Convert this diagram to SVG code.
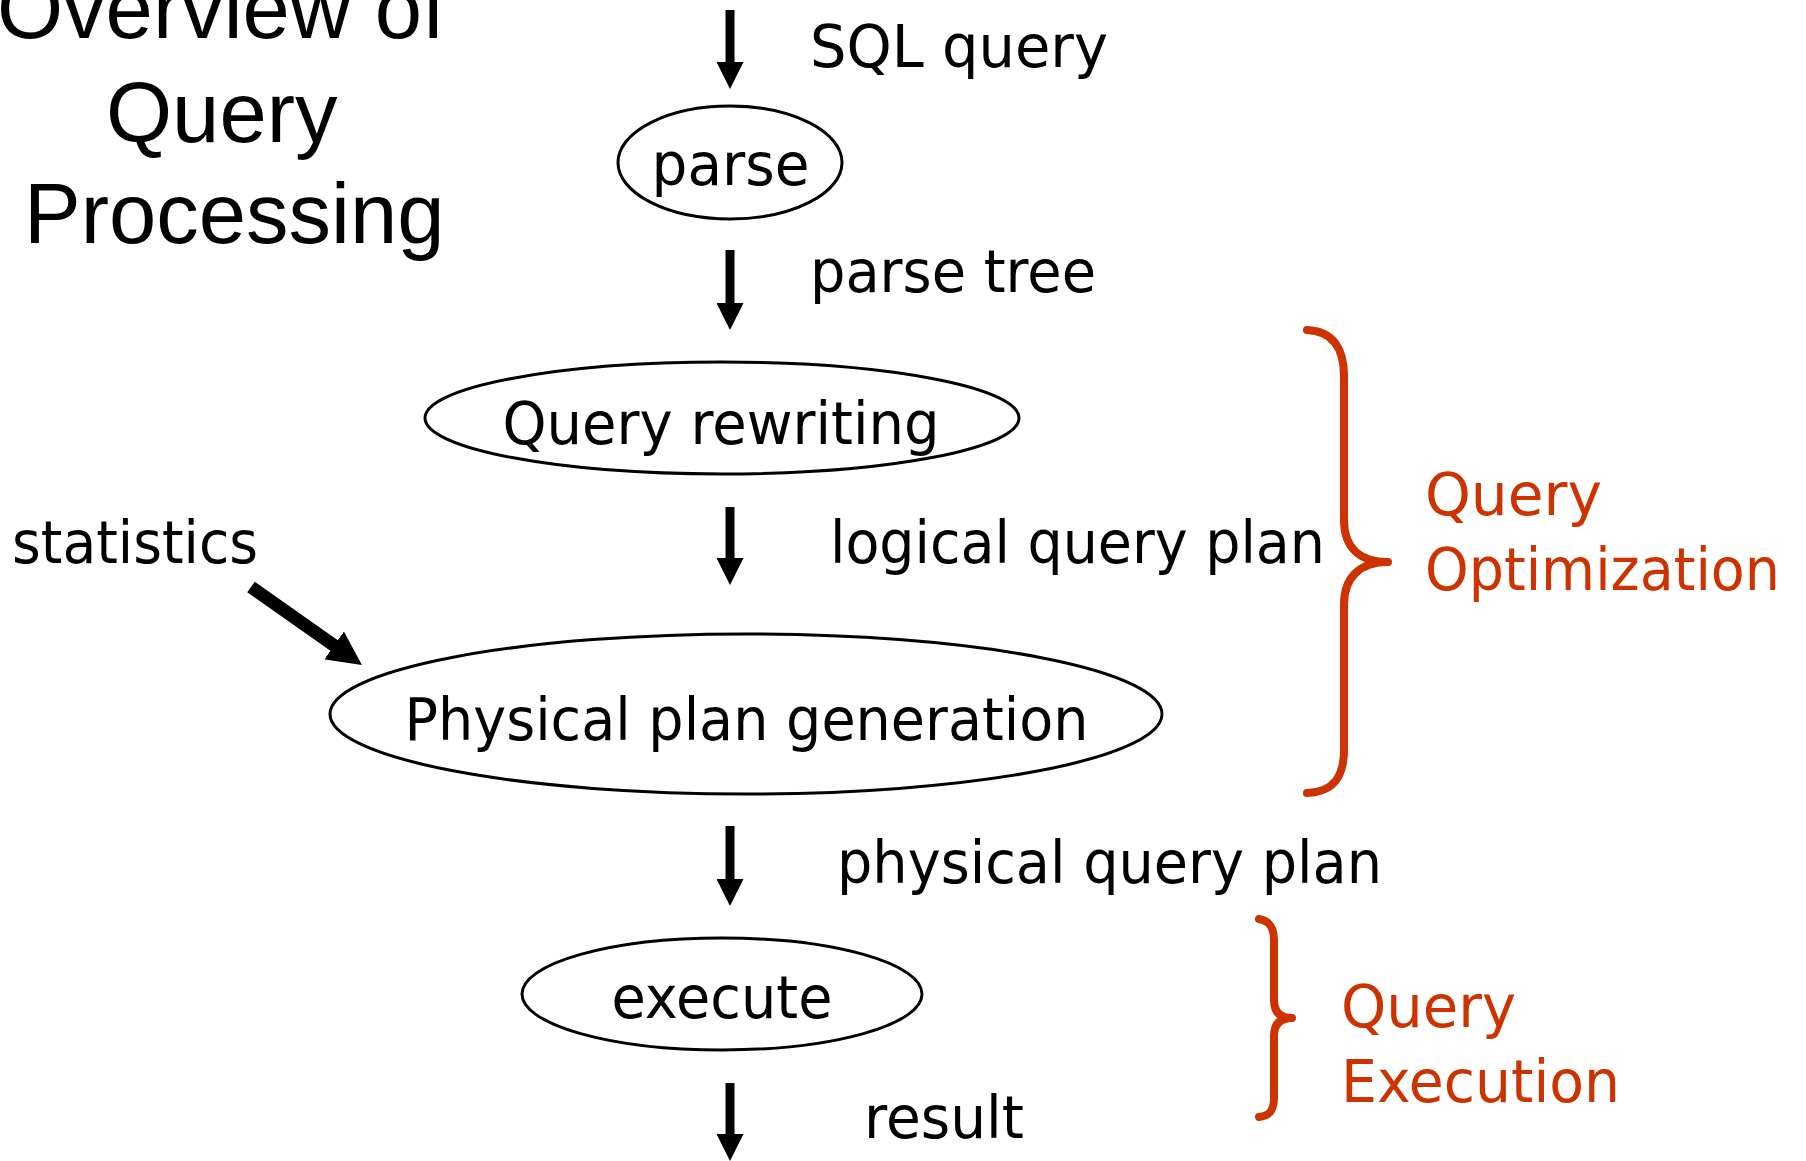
<svg xmlns="http://www.w3.org/2000/svg" width="1806" height="1161" viewBox="0 0 1806 1161">
  <style>
    .title { font-family: "Liberation Sans", Arial, sans-serif; font-size: 85px; fill: #000; }
    .lbl { font-family: "DejaVu Sans", Verdana, sans-serif; font-size: 59px; fill: #000; }
    .red { font-family: "DejaVu Sans", Verdana, sans-serif; font-size: 59px; fill: #cc3300; }
    .node { fill: #fff; stroke: #000; stroke-width: 3; }
    .flow { stroke: #000; stroke-width: 9; fill: none; marker-end: url(#head); }
    .feed { stroke: #000; stroke-width: 13; fill: none; marker-end: url(#bighead); }
    .brace { fill: none; stroke: #cc3300; stroke-width: 8; stroke-linecap: round; stroke-linejoin: round; }
  </style>
  <defs>
    <marker id="head" viewBox="0 0 27 27" refX="3" refY="13.5" markerWidth="27" markerHeight="27" markerUnits="userSpaceOnUse" orient="auto">
      <path d="M0,0 L27,13.5 L0,27 Z" fill="#000"/>
    </marker>
    <marker id="bighead" viewBox="0 0 34 34" refX="3" refY="17" markerWidth="34" markerHeight="34" markerUnits="userSpaceOnUse" orient="auto">
      <path d="M0,0 L34,17 L0,34 Z" fill="#000"/>
    </marker>
  </defs>

  <rect width="1806" height="1161" fill="#fff"/>

  <!-- heading, first line runs off the top edge -->
  <g id="title">
    <text class="title" x="-3" y="38">Overview of</text>
    <text class="title" x="106" y="142">Query</text>
    <text class="title" x="24" y="243">Processing</text>
  </g>

  <!-- flow arrows and their labels -->
  <g id="connectors">
    <line class="flow" x1="730" y1="10" x2="730" y2="65"/>
    <line class="flow" x1="730" y1="250" x2="730" y2="306"/>
    <line class="flow" x1="730" y1="507" x2="730" y2="561"/>
    <line class="flow" x1="730" y1="826" x2="730" y2="882"/>
    <line class="flow" x1="730" y1="1083" x2="730" y2="1137"/>
    <line class="feed" x1="251" y1="587" x2="336.6" y2="647.2"/>
    <text class="lbl" x="810" y="67" textLength="298" lengthAdjust="spacingAndGlyphs">SQL query</text>
    <text class="lbl" x="810" y="292" textLength="286" lengthAdjust="spacingAndGlyphs">parse tree</text>
    <text class="lbl" x="830" y="563" textLength="495" lengthAdjust="spacingAndGlyphs">logical query plan</text>
    <text class="lbl" x="837" y="883" textLength="545" lengthAdjust="spacingAndGlyphs">physical query plan</text>
    <text class="lbl" x="864" y="1138" textLength="160" lengthAdjust="spacingAndGlyphs">result</text>
    <text class="lbl" x="12" y="563" textLength="246" lengthAdjust="spacingAndGlyphs">statistics</text>
  </g>

  <g id="parse">
    <ellipse class="node" cx="730" cy="162.5" rx="112" ry="56.5"/>
    <text class="lbl" x="730.5" y="185" text-anchor="middle" textLength="158" lengthAdjust="spacingAndGlyphs">parse</text>
  </g>

  <g id="rewrite">
    <ellipse class="node" cx="722" cy="418" rx="297" ry="56"/>
    <text class="lbl" x="721" y="444" text-anchor="middle" textLength="437" lengthAdjust="spacingAndGlyphs">Query rewriting</text>
  </g>

  <g id="physical">
    <ellipse class="node" cx="746" cy="714" rx="416" ry="80"/>
    <text class="lbl" x="746.5" y="740" text-anchor="middle" textLength="684" lengthAdjust="spacingAndGlyphs">Physical plan generation</text>
  </g>

  <g id="execute">
    <ellipse class="node" cx="722" cy="994" rx="200" ry="56"/>
    <text class="lbl" x="722" y="1018" text-anchor="middle" textLength="221" lengthAdjust="spacingAndGlyphs">execute</text>
  </g>

  <!-- phase brackets -->
  <g id="optimization">
    <path class="brace" d="M1307,330 C1334,331 1344,350 1344,376 L1344,520 C1344,548 1360,562 1388,562 C1360,562 1344,577 1344,605 L1344,750 C1344,776 1334,792 1307,793"/>
    <text class="red" x="1425" y="515" textLength="177" lengthAdjust="spacingAndGlyphs">Query</text>
    <text class="red" x="1425" y="590" textLength="355" lengthAdjust="spacingAndGlyphs">Optimization</text>
  </g>

  <g id="execution">
    <path class="brace" d="M1259,919 C1270,921 1274,928 1274,940 L1274,1000 C1274,1012 1280,1018 1292,1018 C1280,1018 1274,1024 1274,1036 L1274,1098 C1274,1110 1270,1116 1259,1117"/>
    <text class="red" x="1341" y="1027" textLength="175" lengthAdjust="spacingAndGlyphs">Query</text>
    <text class="red" x="1341" y="1102" textLength="279" lengthAdjust="spacingAndGlyphs">Execution</text>
  </g>
</svg>
